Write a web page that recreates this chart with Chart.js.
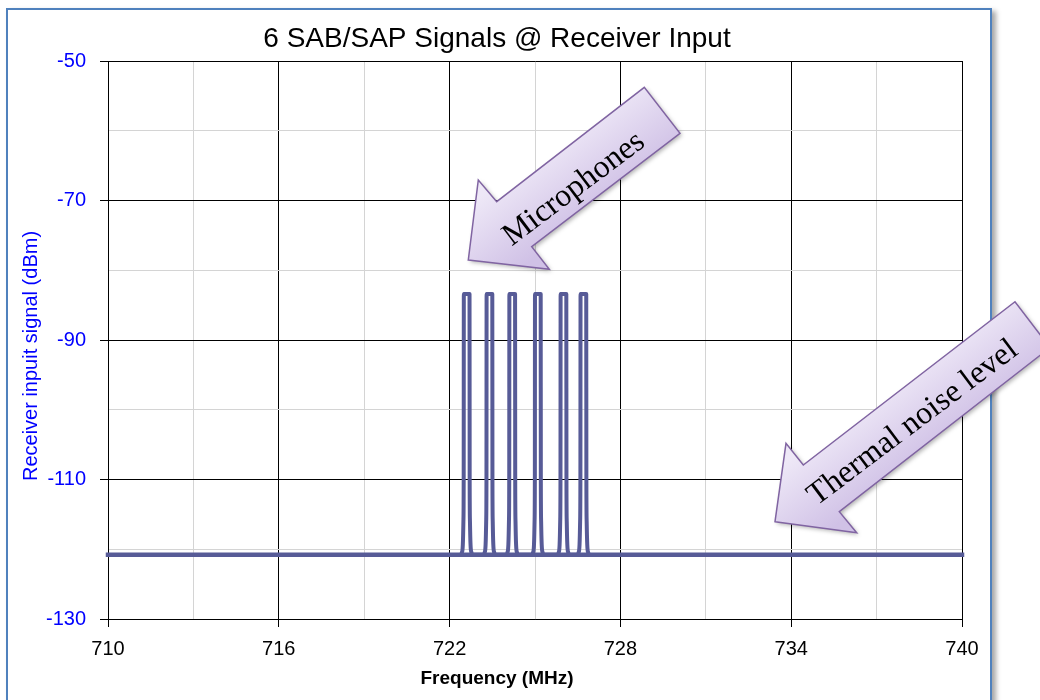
<!DOCTYPE html>
<html>
<head>
<meta charset="utf-8">
<script src="https://cdn.jsdelivr.net/npm/chart.js@4/dist/chart.umd.min.js"></script>
<style>
  html, body { margin: 0; padding: 0; background: #fff; }
  #wrap { position: relative; width: 1040px; height: 700px; overflow: hidden; }
  #frame { position: absolute; left: 6px; top: 8px; width: 982px; height: 740px;
           border: 2px solid #4f81bd; box-shadow: 4px 3px 5px rgba(0,0,0,0.35); background: #fff; }
  #chart { position: absolute; left: 0; top: 0; }
</style>
</head>
<body>
<div id="wrap">
  <div id="frame"></div>
  <canvas id="chart" width="1040" height="700"></canvas>
</div>
<script>
var chartTitle = '6 SAB/SAP Signals @ Receiver Input';
var xTitle = 'Frequency (MHz)';
var yTitle = 'Receiver inpuit signal (dBm)';
var xTickLabels = [710, 716, 722, 728, 734, 740];
var yTickLabels = [-50, -70, -90, -110, -130];

// thermal noise floor
var noiseFreq = [710, 740];
var noiseLevel = [-120.8, -120.8];

// six mic carriers
var signalFreq = [
  722.38, 722.43, 722.465, 722.485, 722.495, 722.5, 722.7, 722.705, 722.715, 722.735, 722.77, 722.82,
  723.18, 723.23, 723.265, 723.285, 723.295, 723.3, 723.5, 723.505, 723.515, 723.535, 723.57, 723.62,
  723.98, 724.03, 724.065, 724.085, 724.095, 724.1, 724.3, 724.305, 724.315, 724.335, 724.37, 724.42,
  724.88, 724.93, 724.965, 724.985, 724.995, 725.0, 725.2, 725.205, 725.215, 725.235, 725.27, 725.32,
  725.78, 725.83, 725.865, 725.885, 725.895, 725.9, 726.1, 726.105, 726.115, 726.135, 726.17, 726.22,
  726.48, 726.53, 726.565, 726.585, 726.595, 726.6, 726.8, 726.805, 726.815, 726.835, 726.87, 726.92
];
var signalLevel = [
  -120.8, -120.5, -119.3, -116, -110, -83.4, -83.4, -110, -116, -119.3, -120.5, -120.8,
  -120.8, -120.5, -119.3, -116, -110, -83.4, -83.4, -110, -116, -119.3, -120.5, -120.8,
  -120.8, -120.5, -119.3, -116, -110, -83.4, -83.4, -110, -116, -119.3, -120.5, -120.8,
  -120.8, -120.5, -119.3, -116, -110, -83.4, -83.4, -110, -116, -119.3, -120.5, -120.8,
  -120.8, -120.5, -119.3, -116, -110, -83.4, -83.4, -110, -116, -119.3, -120.5, -120.8,
  -120.8, -120.5, -119.3, -116, -110, -83.4, -83.4, -110, -116, -119.3, -120.5, -120.8
];

function toPoints(xs, ys) {
  return xs.map(function(x, i) { return { x: x, y: ys[i] }; });
}

var lineColor = '#575b97';

function drawArrow(ctx, pts, g0, g1) {
  ctx.save();
  ctx.beginPath();
  ctx.moveTo(pts[0][0], pts[0][1]);
  for (var i = 1; i < pts.length; i++) ctx.lineTo(pts[i][0], pts[i][1]);
  ctx.closePath();
  var grad = ctx.createLinearGradient(g0[0], g0[1], g1[0], g1[1]);
  grad.addColorStop(0, '#eee8f7');
  grad.addColorStop(1, '#d0c1e6');
  ctx.shadowColor = 'rgba(0,0,0,0.3)';
  ctx.shadowBlur = 4;
  ctx.shadowOffsetX = 2;
  ctx.shadowOffsetY = 2;
  ctx.fillStyle = grad;
  ctx.fill();
  ctx.shadowColor = 'transparent';
  ctx.lineWidth = 1.5;
  ctx.strokeStyle = '#8064a2';
  ctx.stroke();
  ctx.restore();
}

function drawRotText(ctx, text, x, y, angle) {
  ctx.save();
  ctx.translate(x, y);
  ctx.rotate(angle);
  ctx.textAlign = 'center';
  ctx.textBaseline = 'middle';
  ctx.fillText(text, 0, 0);
  ctx.restore();
}

var labelsPlugin = {
  id: 'labelsPlugin',
  afterDraw: function(chart) {
    var ctx = chart.ctx;
    ctx.save();
    ctx.fillStyle = '#000';
    ctx.font = '28px "Liberation Sans", Arial, sans-serif';
    ctx.textAlign = 'center';
    ctx.textBaseline = 'alphabetic';
    ctx.fillText(chartTitle, 497, 46.5);

    ctx.font = 'bold 19px "Liberation Sans", Arial, sans-serif';
    ctx.fillText(xTitle, 497, 683.5);

    ctx.save();
    ctx.translate(36.5, 356);
    ctx.rotate(-Math.PI / 2);
    ctx.fillStyle = '#0000ff';
    ctx.font = '20px "Liberation Sans", Arial, sans-serif';
    ctx.fillText(yTitle, 0, 0);
    ctx.restore();

    var ang = -37 * Math.PI / 180;
    drawArrow(ctx, [[468.3, 260], [549.3, 269.3], [531.7, 246.7], [680, 133.3],
                    [644.3, 87.3], [496.7, 201.7], [478.3, 180]], [560, 135], [610, 200]);
    drawArrow(ctx, [[775, 521.7], [856.7, 532.7], [839.3, 511.7], [1050, 347.6],
                    [1015, 301.7], [803.3, 465], [786, 443.3]], [898, 375], [948, 440]);
    ctx.fillStyle = '#000';
    ctx.font = '32px "Liberation Serif", "Times New Roman", serif';
    drawRotText(ctx, 'Microphones', 574, 189, ang);
    drawRotText(ctx, 'Thermal noise level', 913, 423, ang);
    ctx.restore();
  }
};

function isMajorX(v) { return xTickLabels.indexOf(v) >= 0; }
function isMajorY(v) { return yTickLabels.indexOf(v) >= 0; }

new Chart(document.getElementById('chart'), {
  type: 'line',
  data: {
    datasets: [
      {
        label: 'Noise',
        data: toPoints(noiseFreq, noiseLevel),
        borderColor: lineColor,
        borderWidth: 4.5,
        pointRadius: 0,
        borderCapStyle: 'square',
        clip: 8
      },
      {
        label: 'Signals',
        data: toPoints(signalFreq, signalLevel),
        borderColor: lineColor,
        borderWidth: 4,
        pointRadius: 0,
        borderJoinStyle: 'round',
        cubicInterpolationMode: 'monotone',
        clip: 8
      }
    ]
  },
  options: {
    responsive: false,
    animation: false,
    layout: { padding: { left: 0, right: 78, top: 61, bottom: 0 } },
    plugins: { legend: { display: false }, title: { display: false }, tooltip: { enabled: false } },
    scales: {
      x: {
        type: 'linear',
        min: 710,
        max: 740,
        afterFit: function(s) { s.height = 81; },
        border: { display: true, color: '#000', width: 1 },
        grid: {
          color: function(c) { return isMajorX(c.tick.value) ? '#000' : '#d4d4d4'; },
          tickColor: function(c) { return isMajorX(c.tick.value) ? '#000' : 'rgba(0,0,0,0)'; },
          tickLength: 8,
          lineWidth: 1
        },
        ticks: {
          stepSize: 3,
          padding: 10,
          color: '#000',
          maxRotation: 0,
          autoSkip: false,
          font: { family: '"Liberation Sans", Arial, sans-serif', size: 20 },
          callback: function(v) { return isMajorX(v) ? String(v) : ''; }
        }
      },
      y: {
        min: -130,
        max: -50,
        afterFit: function(s) { s.width = 108; },
        border: { display: true, color: '#000', width: 1 },
        grid: {
          color: function(c) { return isMajorY(c.tick.value) ? '#000' : '#d4d4d4'; },
          tickColor: function(c) { return isMajorY(c.tick.value) ? '#000' : 'rgba(0,0,0,0)'; },
          tickLength: 8,
          lineWidth: 1
        },
        ticks: {
          stepSize: 10,
          padding: 14,
          color: '#0000ff',
          autoSkip: false,
          font: { family: '"Liberation Sans", Arial, sans-serif', size: 20 },
          callback: function(v) { return isMajorY(v) ? String(v) : ''; }
        }
      }
    }
  },
  plugins: [labelsPlugin]
});
</script>
</body>
</html>
